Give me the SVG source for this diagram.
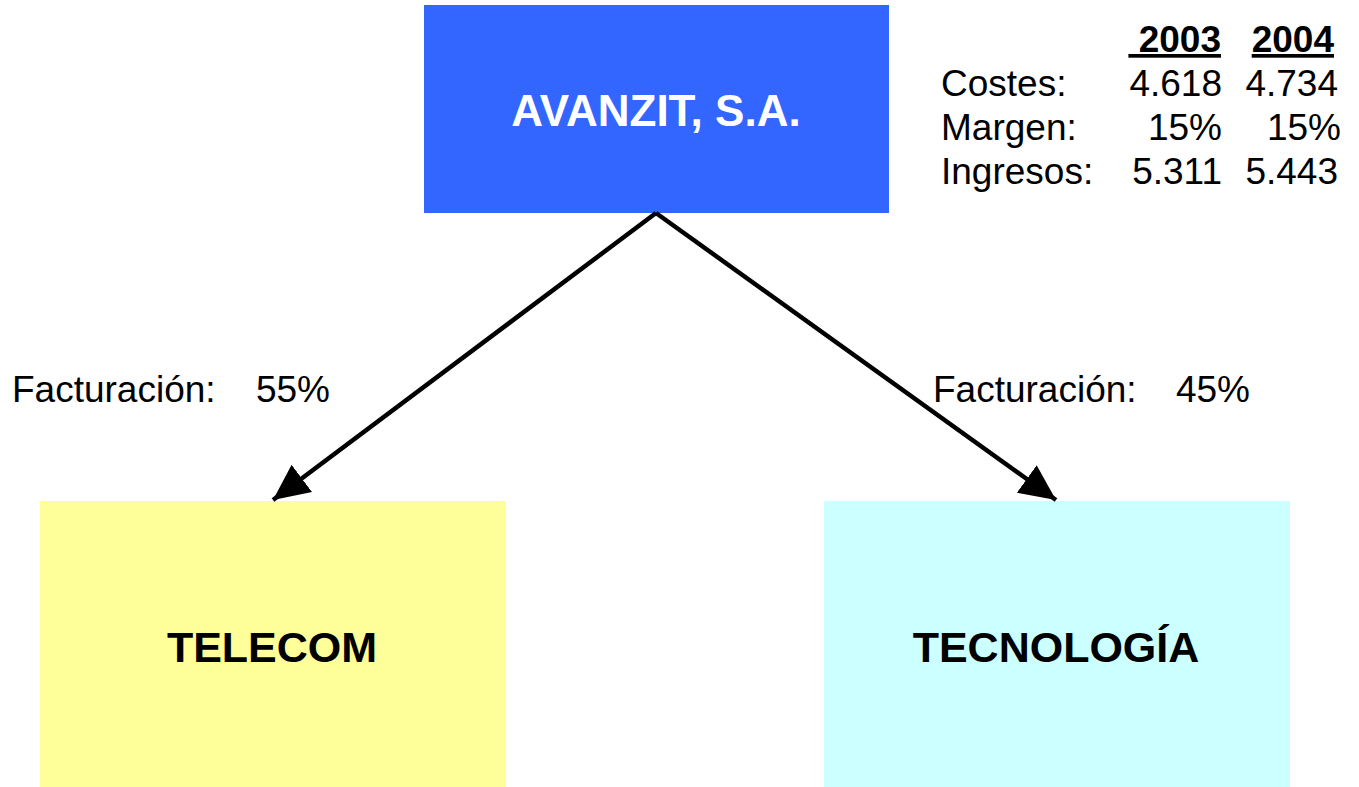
<svg xmlns="http://www.w3.org/2000/svg" width="1359" height="787" viewBox="0 0 1359 787">
<style>
text{font-family:"Liberation Sans",Arial,sans-serif;fill:#000}
.t{font-size:37px}
.b{font-weight:bold;font-size:43px;text-anchor:middle}
.r{text-anchor:end}
.c{stroke:#000;stroke-width:4.5;fill:none}
</style>
<defs>
<marker id="ah" markerUnits="userSpaceOnUse" markerWidth="40" markerHeight="40" viewBox="0 0 40 40" refX="36" refY="20" orient="auto">
<path d="M0,3 L36,20 L0,37 Z" fill="#000"/>
</marker>
</defs>
<rect width="1359" height="787" fill="#fff"/>
<g id="avanzit">
<rect x="424" y="5" width="465" height="208" fill="#3366FF"/>
<text class="b" x="656" y="126" style="fill:#fff;font-size:44px">AVANZIT, S.A.</text>
</g>
<g id="telecom">
<rect x="40" y="501" width="466" height="286" fill="#FFFF99"/>
<text class="b" x="272" y="662">TELECOM</text>
</g>
<g id="tecnologia">
<rect x="824" y="501" width="466" height="286" fill="#CCFFFF"/>
<text class="b" x="1056" y="662">TECNOLOGÍA</text>
</g>
<g id="connectors">
<line class="c" x1="656" y1="213" x2="273" y2="500" marker-end="url(#ah)"/>
<line class="c" x1="656" y1="213" x2="1056" y2="500" marker-end="url(#ah)"/>
</g>
<g id="labels">
<text class="t" x="12" y="402">Facturación:</text>
<text class="t r" x="330" y="402">55%</text>
<text class="t" x="933" y="402">Facturación:</text>
<text class="t r" x="1250" y="402">45%</text>
</g>
<g id="table">
<text class="t r" x="1221" y="52" font-weight="bold" text-decoration="underline" style="white-space:pre"> 2003</text>
<text class="t r" x="1334" y="52" font-weight="bold" text-decoration="underline">2004</text>
<text class="t" x="941" y="96">Costes:</text>
<text class="t r" x="1222" y="96">4.618</text>
<text class="t r" x="1338" y="96">4.734</text>
<text class="t" x="941" y="140">Margen:</text>
<text class="t r" x="1222" y="140">15%</text>
<text class="t r" x="1341" y="140">15%</text>
<text class="t" x="941" y="184">Ingresos:</text>
<text class="t r" x="1222" y="184">5.311</text>
<text class="t r" x="1338" y="184">5.443</text>
</g>
</svg>
